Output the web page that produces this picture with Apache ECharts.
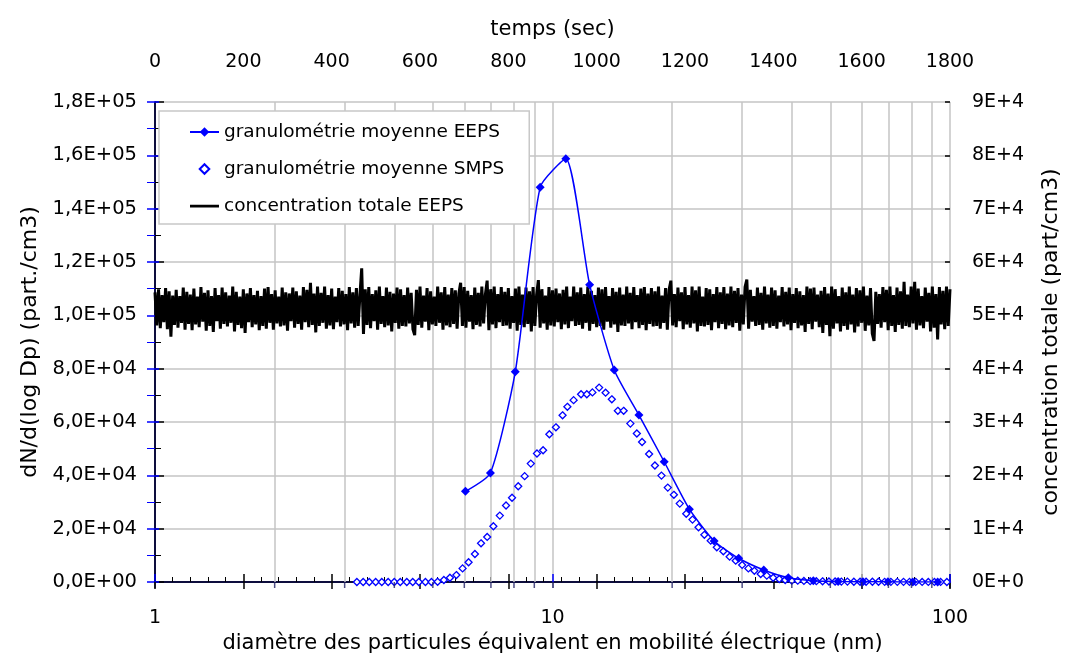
<!DOCTYPE html>
<html>
<head>
<meta charset="utf-8">
<script src="https://cdn.jsdelivr.net/npm/echarts@6/dist/echarts.min.js"></script>
<style>
html,body{margin:0;padding:0;background:#fff;}
#graphe{width:1073px;height:661px;}
</style>
</head>
<body>
<div id="graphe"></div>
<script>
// granulométrie moyenne EEPS : diamètre (nm) / dN/dlogDp (part./cm3)
var diamEEPS = [6.04, 6.98, 8.06, 9.31, 10.8, 12.4, 14.3, 16.5, 19.1, 22.1, 25.5, 29.4, 34.0, 39.2, 45.3, 52.3, 60.4, 69.8, 80.6, 93.1];
var granuloEEPS = [34000, 40900, 78800, 148000, 158700, 111500, 79500, 62600, 45100, 27300, 15400, 8900, 4500, 1600, 500, 200, 100, 60, 30, 10];

// granulométrie moyenne SMPS (64 canaux/décade)
var diamSMPS = [3.22, 3.34, 3.46, 3.59, 3.72, 3.86, 4.00, 4.14, 4.30, 4.45,
	4.61, 4.79, 4.96, 5.14, 5.33, 5.52, 5.73, 5.94, 6.15, 6.38,
	6.61, 6.85, 7.10, 7.37, 7.64, 7.91, 8.20, 8.51, 8.82, 9.14,
	9.47, 9.82, 10.2, 10.6, 10.9, 11.3, 11.8, 12.2, 12.6, 13.1,
	13.6, 14.1, 14.6, 15.1, 15.7, 16.3, 16.8, 17.5, 18.1, 18.8,
	19.5, 20.2, 20.9, 21.7, 22.5, 23.3, 24.1, 25.0, 25.9, 26.9,
	27.9, 28.9, 30.0, 31.1, 32.2, 33.4, 34.6, 35.9, 37.2, 38.5,
	40.0, 41.4, 42.9, 44.5, 46.1, 47.8, 49.6, 51.4, 53.3, 55.2,
	57.3, 59.4, 61.5, 63.8, 66.1, 68.5, 71.0, 73.7, 76.4, 79.1,
	82.0, 85.1, 88.2, 91.4, 94.7, 98.2];
var granuloSMPS = [0, 0, 0, 0, 0, 0, 0, 0, 0, 0,
	0, 0, 0, 100, 750, 1600, 2600, 5100, 7400, 10500,
	14500, 16900, 20900, 24900, 28700, 31600, 35900, 39700, 44400, 48200,
	49400, 55400, 58000, 62500, 65700, 68200, 70400, 70400, 71100, 72900,
	71000, 68500, 64200, 64200, 59400, 55700, 52500, 48000, 43700, 39900,
	35400, 32700, 29400, 25600, 23400, 20500, 17700, 15500, 13000, 11500,
	9500, 8000, 6400, 5100, 4200, 3000, 2400, 1600, 1100, 750,
	500, 500, 400, 300, 300, 250, 200, 200, 150, 150,
	100, 100, 100, 80, 80, 60, 60, 50, 50, 40,
	40, 30, 30, 20, 20, 10];

// concentration totale EEPS (part/cm3), un point toutes les 4 s
var pasTemps = 4;
var concTotale = [
	54300, 48100, 54900, 47600, 53800, 48700, 55100, 47400, 54500, 46000, 53700, 48200, 54800, 47700, 53600, 48600, 55200, 47300, 54400, 48400,
	53900, 47200, 55000, 48300, 53500, 47800, 55300, 48800, 54200, 47100, 54700, 48000, 53600, 46900, 55100, 48900, 53800, 47500, 55200, 48400,
	54300, 47900, 53700, 48600, 55400, 47000, 54400, 48200, 53500, 47600, 54900, 46700, 54100, 48700, 55100, 47800, 53800, 48300, 54600, 47200,
	53600, 48000, 55000, 47500, 55300, 48600, 54000, 47300, 54700, 48500, 53500, 47900, 55200, 48100, 54300, 47100, 54100, 48900, 55200, 47700,
	54500, 48400, 53700, 47300, 55300, 48700, 54800, 47800, 56100, 48200, 54100, 46800, 55400, 48000, 54200, 48600, 55400, 47500, 53800, 48100,
	55000, 47400, 53500, 48700, 55100, 47900, 54600, 48300, 54000, 47200, 55300, 48500, 54300, 47700, 55100, 48000, 53800, 58800, 46500, 54900,
	48200, 55300, 47600, 54000, 48900, 54700, 47300, 55400, 48400, 53600, 47800, 55200, 48100, 54400, 47000, 54100, 48600, 55200, 47500, 54900,
	48000, 53800, 47900, 55200, 48500, 54200, 47400, 46300, 54800, 48200, 55400, 47700, 53700, 48800, 55100, 47200, 54500, 48300, 53500, 48000,
	55400, 48600, 54300, 47300, 55300, 48100, 53900, 47800, 55100, 48400, 54700, 47500, 54100, 56100, 48000, 55300, 47700, 54600, 48800, 53800,
	47400, 55200, 48200, 54200, 47900, 55400, 48500, 53900, 56500, 47200, 54900, 48300, 55400, 47600, 54000, 48700, 55300, 48000, 54400, 48100,
	55100, 47500, 53600, 48600, 55000, 47100, 55400, 48200, 53900, 47800, 55200, 48400, 54500, 47000, 55300, 48000, 53800, 56600, 47700, 54900,
	48500, 53700, 47300, 55300, 48100, 54700, 47900, 55000, 48700, 54100, 47400, 54800, 48300, 55400, 47600, 53500, 48900, 55400, 48000, 54300,
	48200, 55200, 47500, 54000, 48600, 55400, 47100, 54600, 48400, 53800, 47800, 55200, 48000, 54900, 47300, 55300, 48800, 53600, 47700, 55100,
	48300, 54400, 46900, 55200, 48100, 53900, 48000, 55400, 48500, 54200, 47400, 55300, 48700, 53800, 47600, 55000, 48200, 55300, 47200, 54100,
	48400, 55100, 47900, 54500, 48000, 55400, 47500, 53700, 48600, 55100, 47300, 54800, 56500, 48100, 54000, 47800, 55200, 48900, 54300, 47400,
	55300, 48300, 53800, 47700, 55400, 48500, 54700, 47000, 55400, 48000, 53500, 47900, 55100, 48200, 54900, 47200, 54000, 48700, 55300, 47600,
	54300, 48400, 55300, 47400, 54100, 48100, 55400, 47800, 54600, 48600, 55100, 47100, 53900, 48300, 55300, 56700, 47500, 54800, 48800, 53600,
	48000, 55200, 48200, 54200, 47300, 55400, 48500, 53900, 47700, 55200, 48000, 54700, 47500, 53700, 48700, 55300, 47900, 54400, 48300, 55200,
	47200, 54000, 48600, 55100, 47600, 54500, 48100, 53800, 46900, 55400, 48400, 55000, 47400, 55200, 48800, 53900, 47800, 54600, 46700, 55300,
	48200, 54100, 46100, 55400, 47500, 54900, 48500, 53600, 47000, 55200, 48000, 54300, 47300, 55400, 48300, 53900, 46800, 55100, 47900, 54700,
	48600, 55400, 47100, 53700, 48100, 55100, 46600, 45200, 54400, 48400, 54000, 47700, 55300, 48700, 54800, 47200, 55400, 48000, 53800, 46900,
	55200, 48200, 54500, 47500, 56300, 48000, 53900, 47800, 55400, 48500, 56300, 47300, 55000, 48100, 53600, 47600, 55200, 48800, 54200, 47000,
	55400, 47700, 54000, 45500, 55300, 48300, 54600, 47400, 55400, 48000, 54900];

// lignes de grille secondaires de l'axe log
var grilleLog = [2, 3, 4, 5, 6, 7, 8, 9, 20, 30, 40, 50, 60, 70, 80, 90];

var police = 'DejaVu Sans';
var bleu = '#0000ff';

function labelGauche(v) {
	if (v === 0) return '0,0E+00';
	var e = Math.floor(Math.log10(v) + 1e-9);
	var m = v / Math.pow(10, e);
	return m.toFixed(1).replace('.', ',') + 'E+' + (e < 10 ? '0' + e : e);
}
function labelDroite(v) {
	if (v === 0) return '0E+0';
	var e = Math.floor(Math.log10(v) + 1e-9);
	return Math.round(v / Math.pow(10, e)) + 'E+' + e;
}

var dataEEPS = [];
for (var i = 0; i < diamEEPS.length; i++) {
	dataEEPS.push([diamEEPS[i], granuloEEPS[i]]);
}
var dataSMPS = [];
for (var j = 0; j < diamSMPS.length; j++) {
	dataSMPS.push([diamSMPS[j], granuloSMPS[j]]);
}
var dataConc = [];
for (var k = 0; k < concTotale.length; k++) {
	dataConc.push([k * pasTemps, concTotale[k]]);
}

function nomStyle(taille) {
	return {fontFamily: police, fontSize: taille, color: '#000'};
}

var myChart = echarts.init(document.getElementById('graphe'));
var option = {
	animation: false,
	textStyle: {fontFamily: police},
	grid: {left: 155, right: 123, top: 102, bottom: 79},
	legend: {
		orient: 'vertical',
		left: 159,
		top: 111,
		backgroundColor: '#fff',
		borderColor: '#c8c8c8',
		borderWidth: 1.5,
		padding: [10, 25, 7, 30],
		itemGap: 15,
		itemWidth: 29,
		itemHeight: 12,
		textStyle: {fontFamily: police, fontSize: 18.5, color: '#000', lineHeight: 22},
		data: [
			'granulométrie moyenne EEPS',
			'granulométrie moyenne SMPS',
			{name: 'concentration totale EEPS', icon: 'path://M0,0 L0.01,0 L0.01,0.01 Z M0,4.8 L29,4.8 L29,7.4 L0,7.4 Z M29,12 L29.01,12 L29.01,11.99 Z'}
		]
	},
	xAxis: [{
		type: 'log', logBase: 10, min: 1, max: 100, position: 'bottom',
		name: 'diamètre des particules équivalent en mobilité électrique (nm)',
		nameLocation: 'middle', nameGap: 49, nameTextStyle: nomStyle(21),
		axisLine: {lineStyle: {color: bleu, width: 1.5}},
		axisTick: {inside: false, length: 6, lineStyle: {color: '#222266', width: 1.5}},
		axisLabel: {margin: 27, fontFamily: police, fontSize: 19, color: '#000'},
		splitLine: {show: true, lineStyle: {color: '#c4c4c4', width: 1.5}}
	}, {
		type: 'value', min: 0, max: 1800, interval: 200, position: 'top',
		name: 'temps (sec)', nameLocation: 'middle', nameGap: 62, nameTextStyle: nomStyle(21),
		axisLine: {lineStyle: {color: '#000', width: 1.5}},
		axisTick: {inside: false, length: 8, lineStyle: {color: '#000', width: 1.5}},
		minorTick: {show: true, splitNumber: 5, length: 5, lineStyle: {color: '#000', width: 1}},
		axisLabel: {margin: 30, formatter: function (v) { return String(v); }, fontFamily: police, fontSize: 19, color: '#000'},
		splitLine: {show: false}
	}, {
		type: 'log', logBase: 10, min: 1, max: 100, position: 'bottom',
		axisLine: {show: false},
		axisTick: {inside: true, length: 8, lineStyle: {color: bleu, width: 1.5}},
		axisLabel: {show: false}, splitLine: {show: false}
	}, {
		type: 'value', min: 0, max: 1800, interval: 200, position: 'top',
		axisLine: {show: false},
		axisTick: {inside: true, length: 7, lineStyle: {color: '#000', width: 1.5}},
		axisLabel: {show: false}, splitLine: {show: false}
	}],
	yAxis: [{
		type: 'value', min: 0, max: 180000, interval: 20000, position: 'left',
		name: 'dN/d(log Dp) (part./cm3)', nameLocation: 'middle', nameRotate: 90, nameGap: 114, nameTextStyle: nomStyle(22),
		axisLine: {show: true, lineStyle: {color: bleu, width: 1.5}},
		axisTick: {show: true, inside: false, length: 8, lineStyle: {color: bleu, width: 1.5}},
		minorTick: {show: true, splitNumber: 2, length: 8, lineStyle: {color: bleu, width: 1}},
		axisLabel: {margin: 18, formatter: labelGauche, fontFamily: police, fontSize: 19.5, color: '#000'},
		splitLine: {show: true, lineStyle: {color: '#c4c4c4', width: 1.5}}
	}, {
		type: 'value', min: 0, max: 90000, interval: 10000, position: 'right',
		name: 'concentration totale (part/cm3)', nameLocation: 'middle', nameRotate: 90, nameGap: 90, nameTextStyle: nomStyle(22),
		axisLine: {show: true, lineStyle: {color: '#000', width: 1.5}},
		axisTick: {show: true, inside: false, length: 9, lineStyle: {color: '#000', width: 1.5}},
		minorTick: {show: true, splitNumber: 2, length: 6, lineStyle: {color: '#000', width: 1}},
		axisLabel: {margin: 22, formatter: labelDroite, fontFamily: police, fontSize: 19, color: '#000'},
		splitLine: {show: false}
	}, {
		type: 'value', min: 0, max: 180000, interval: 20000, position: 'left',
		axisLine: {show: false},
		axisTick: {show: true, inside: true, length: 4, lineStyle: {color: bleu, width: 1.5}},
		axisLabel: {show: false}, splitLine: {show: false}
	}, {
		type: 'value', min: 0, max: 90000, interval: 10000, position: 'right',
		axisLine: {show: false},
		axisTick: {show: true, inside: true, length: 5, lineStyle: {color: '#000', width: 1.5}},
		axisLabel: {show: false}, splitLine: {show: false}
	}],
	series: [{
		name: 'concentration totale EEPS',
		type: 'line',
		xAxisIndex: 1,
		yAxisIndex: 1,
		symbol: 'none',
		z: 2,
		lineStyle: {color: '#000', width: 3, join: 'miter', miterLimit: 2},
		itemStyle: {color: '#000'},
		data: dataConc
	}, {
		name: 'granulométrie moyenne SMPS',
		type: 'line',
		xAxisIndex: 0,
		yAxisIndex: 0,
		symbol: 'diamond',
		symbolSize: 7,
		z: 3,
		lineStyle: {opacity: 0, width: 0},
		itemStyle: {color: '#fff', borderColor: bleu, borderWidth: 1.3},
		data: dataSMPS,
		markLine: {
			silent: true,
			z: 1,
			symbol: 'none',
			label: {show: false},
			lineStyle: {color: '#c4c4c4', width: 1.5, type: 'solid'},
			emphasis: {disabled: true},
			data: grilleLog.map(function (v) { return {xAxis: v}; })
		}
	}, {
		name: 'granulométrie moyenne EEPS',
		type: 'line',
		xAxisIndex: 0,
		yAxisIndex: 0,
		symbol: 'diamond',
		symbolSize: 9,
		smooth: 0.2,
		z: 4,
		lineStyle: {color: bleu, width: 1.5},
		itemStyle: {color: bleu},
		data: dataEEPS
	}, {
		// petites graduations de l'axe log
		name: 'graduations',
		type: 'scatter',
		xAxisIndex: 0,
		yAxisIndex: 0,
		symbol: 'rect',
		symbolSize: [1.5, 6],
		symbolOffset: [0, 3],
		clip: false,
		silent: true,
		z: 5,
		itemStyle: {color: '#222266'},
		data: grilleLog.map(function (v) { return [v, 0]; })
	}]
};
myChart.setOption(option);
</script>
</body>
</html>
